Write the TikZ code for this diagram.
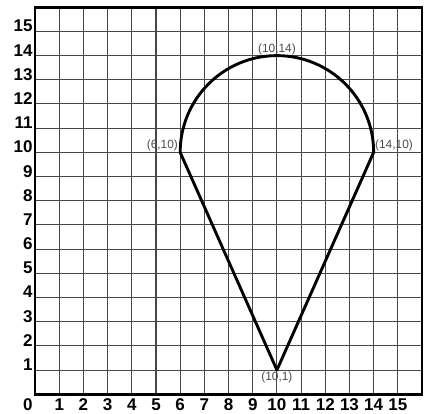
\documentclass[tikz,border=0pt]{standalone}
\usepackage{fontspec}
\setmainfont{Liberation Sans}
\begin{document}
\begin{tikzpicture}[x=1cm,y=1cm,
  gridline/.style={draw=black!72, line width=1.2pt},
  frame/.style={draw=black, line width=3.2pt},
  axislabel/.style={font=\fontsize{20}{20}\selectfont\bfseries, inner sep=0pt},
  ptlabel/.style={font=\fontsize{14}{14}\selectfont, text=black!70, inner sep=1pt},
  outline/.style={draw=black, line width=3.4pt, line join=round}]
\useasboundingbox (-1.45,-0.8) rectangle (16.33,16.3);
% grid
\foreach \i in {1,...,15} {
  \draw[gridline] (\i,0) -- (\i,16);
  \draw[gridline] (0,\i) -- (16,\i);
}
\draw[frame] (0,0) rectangle (16,16);
% axis labels
\foreach \i in {1,...,15} {
  \node[axislabel, anchor=base east] (yl\i) at (-0.1,\i-0.02) {\i};
  \node[axislabel, anchor=base] (xl\i) at (\i,-0.66) {\i};
}
\node[axislabel, anchor=base] (xl0) at (-0.3,-0.66) {0};
% shape
\coordinate (A) at (6,10);
\coordinate (B) at (10,1);
\coordinate (C) at (14,10);
\coordinate (T) at (10,14);
\draw[outline] (A) -- (B) -- (C) arc[start angle=0, end angle=180, radius=4] -- cycle;
% point labels
\node[ptlabel, anchor=south] (lT) at (T) {(10,14)};
\node[ptlabel, anchor=south east] (lA) at ([xshift=-0.05cm]A) {(6,10)};
\node[ptlabel, anchor=south west] (lC) at ([xshift=0.02cm]C) {(14,10)};
\node[ptlabel, anchor=north] (lB) at ([yshift=-0.05cm]B) {(10,1)};
\end{tikzpicture}
\end{document}
